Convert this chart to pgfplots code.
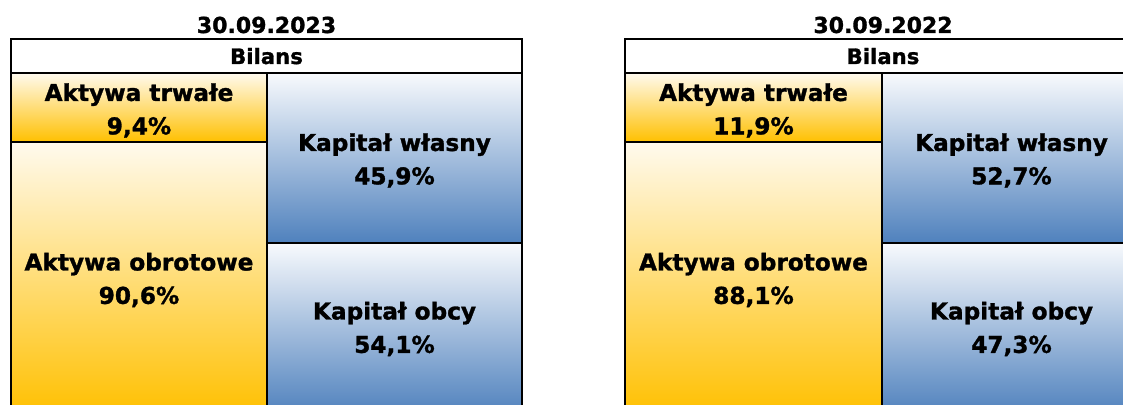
\documentclass[border=0pt]{standalone}
\usepackage{fontspec}
\setmainfont{DejaVu Sans}[BoldFeatures={FakeBold=1.3}]
\usepackage{pgfplots}
\pgfplotsset{compat=1.18}

\definecolor{goldTop}{HTML}{FFFAEE}
\definecolor{goldBot}{HTML}{FFC000}
\definecolor{blueTop}{HTML}{F8FAFD}
\definecolor{blueBot}{HTML}{4F81BD}

% one column of the balance sheet = one stacked bar
\pgfplotsset{
  cell/.style={
    scale only axis, hide axis, clip=false,
    anchor=south west, height=171pt,
    xmin=0, xmax=1, ymin=0, ymax=342,
    ybar stacked, bar width=1,
  },
  assetbar/.style={draw=black, line width=1.2pt, top color=goldTop, bottom color=goldBot},
  capbar/.style={draw=black, line width=1.2pt, top color=blueTop, bottom color=blueBot},
}
\tikzset{lbl/.style={font=\bfseries\fontsize{11.6}{16.7}\selectfont, align=center}}

\begin{document}
\begin{tikzpicture}
\useasboundingbox (0,0) rectangle (561.5pt,-202.5pt);
\clip (0,0) rectangle (561.5pt,-202.5pt);

% ---- 30.09.2023 ----
\begin{axis}[cell, at={(5.5pt,-207.5pt)}, width=128pt]
\addplot[assetbar] coordinates {(0.5,273)}; % aktywa obrotowe
\addplot[assetbar] coordinates {(0.5,69)};  % aktywa trwale
\coordinate (a1) at (axis cs:0.5,304.5);
\coordinate (a2) at (axis cs:0.5,135);
\end{axis}

\begin{axis}[cell, at={(133.5pt,-207.5pt)}, width=127.5pt]
\addplot[capbar] coordinates {(0.5,172)}; % kapital obcy
\addplot[capbar] coordinates {(0.5,170)}; % kapital wlasny
\coordinate (k1) at (axis cs:0.5,254.5);
\coordinate (k2) at (axis cs:0.5,86);
\end{axis}

\node[lbl, anchor=base] at (133.25pt,-16.5pt) {\fontsize{11}{13}\selectfont 30.09.2023};
\draw[line width=1.2pt] (5.5pt,-19.5pt) rectangle (261pt,-36.5pt);
\node[lbl, anchor=base] at (133.25pt,-32pt) {\fontsize{10.6}{13}\selectfont Bilans};
\node[lbl] at (a1) {Aktywa trwałe\\9,4\%};
\node[lbl] at (a2) {Aktywa obrotowe\\90,6\%};
\node[lbl] at (k1) {Kapitał własny\\45,9\%};
\node[lbl] at (k2) {Kapitał obcy\\54,1\%};

% ---- 30.09.2022 ----
\begin{axis}[cell, at={(312.5pt,-207.5pt)}, width=128.5pt]
\addplot[assetbar] coordinates {(0.5,273)};
\addplot[assetbar] coordinates {(0.5,69)};
\coordinate (b1) at (axis cs:0.5,304.5);
\coordinate (b2) at (axis cs:0.5,135);
\end{axis}

\begin{axis}[cell, at={(441pt,-207.5pt)}, width=129.5pt]
\addplot[capbar] coordinates {(0.5,172)};
\addplot[capbar] coordinates {(0.5,170)};
\coordinate (m1) at (axis cs:0.5,254.5);
\coordinate (m2) at (axis cs:0.5,86);
\end{axis}

\node[lbl, anchor=base] at (441.5pt,-16.5pt) {\fontsize{11}{13}\selectfont 30.09.2022};
\draw[line width=1.2pt] (312.5pt,-19.5pt) rectangle (570.5pt,-36.5pt);
\node[lbl, anchor=base] at (441.5pt,-32pt) {\fontsize{10.6}{13}\selectfont Bilans};
\node[lbl] at (b1) {Aktywa trwałe\\11,9\%};
\node[lbl] at (b2) {Aktywa obrotowe\\88,1\%};
\node[lbl] at (m1) {Kapitał własny\\52,7\%};
\node[lbl] at (m2) {Kapitał obcy\\47,3\%};
\end{tikzpicture}
\end{document}
